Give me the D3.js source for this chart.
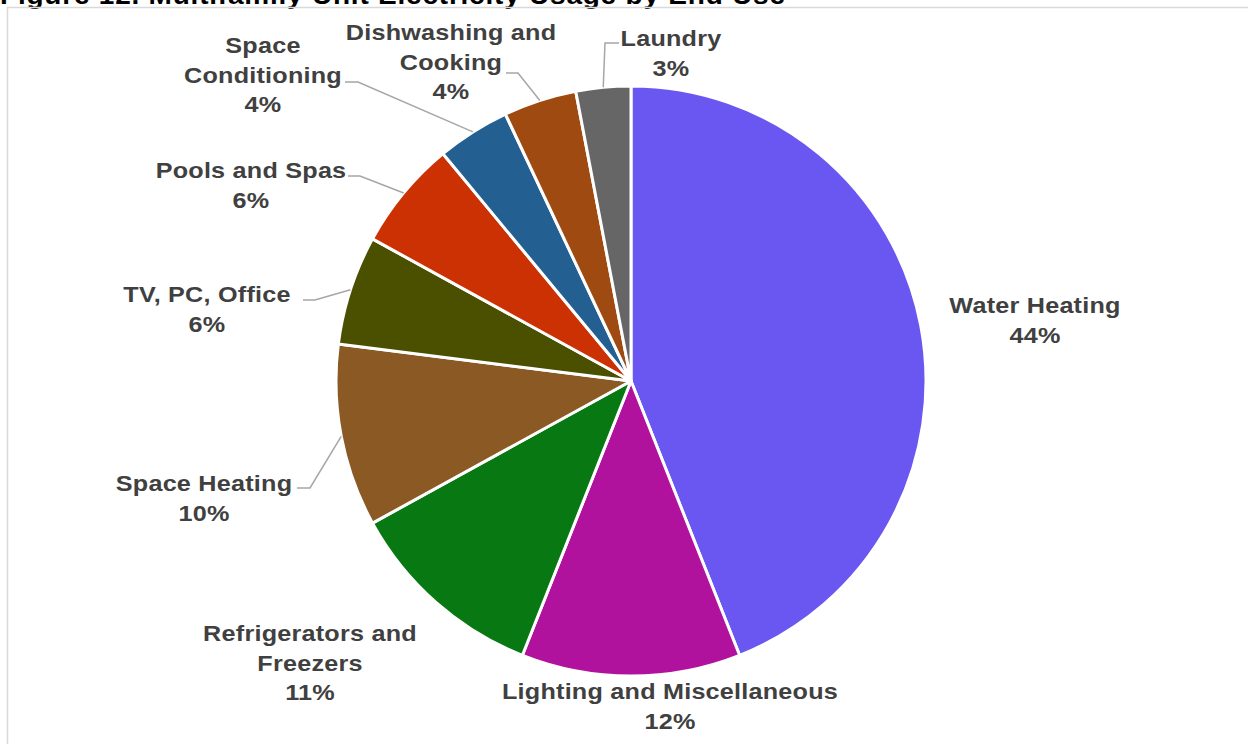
<!DOCTYPE html>
<html>
<head>
<meta charset="utf-8">
<script src="https://cdn.jsdelivr.net/npm/d3@7"></script>
<style>
  body { margin: 0; background: #fff; }
  svg { display: block; }
  text { font-family: "Liberation Sans", Arial, sans-serif; font-weight: bold; }
</style>
</head>
<body>
<svg width="1248" height="744"></svg>
<script>
var categories = ["Water Heating", "Lighting and Miscellaneous", "Refrigerators and Freezers",
    "Space Heating", "TV, PC, Office", "Pools and Spas", "Space Conditioning",
    "Dishwashing and Cooking", "Laundry"];
var shares = [44, 12, 11, 10, 6, 6, 4, 4, 3];
var colors = ["#6a56f0", "#b0129e", "#077812", "#8b5a24", "#4a5000", "#cc3104", "#245f91", "#9f4a10", "#666666"];

// label text split into lines, and where Excel placed each label box
var labelLines = [["Water Heating"], ["Lighting and Miscellaneous"], ["Refrigerators and", "Freezers"],
    ["Space Heating"], ["TV, PC, Office"], ["Pools and Spas"], ["Space", "Conditioning"],
    ["Dishwashing  and", "Cooking"], ["Laundry"]];
var labelPos = [[1034, 305], [669, 691], [309, 633], [203, 483], [206, 294],
    [250, 170], [262, 45], [450, 32], [670, 38]];
// leader elbow: [x of label side end, x of elbow, y]
var leaders = [null, null, null, [297, 310, 488], [303, 315, 300], [348, 360, 176],
    [345, 358, 82], [506, 518, 73], [619, 605, 43]];

var svg = d3.select("svg"),
    cx = 631, cy = 381, radius = 295, lineH = 29.5;

svg.append("text")
    .attr("transform", "translate(0,4) scale(1.12,1)")
    .attr("font-size", 25)
    .attr("letter-spacing", 0.7)
    .attr("fill", "#000")
    .text("Figure 12. Multifamily Unit Electricity Usage by End Use");

svg.append("path")
    .attr("d", "M7.5,744 V7.5 H1248")
    .attr("fill", "none")
    .attr("stroke", "#d9d9d9")
    .attr("stroke-width", 1.5);

var data = categories.map(function(c, i) {
    return { name: c, value: shares[i], color: colors[i], lines: labelLines[i], pos: labelPos[i], leader: leaders[i] };
});

var pie = d3.pie().sort(null).value(function(d) { return d.value; });
var arc = d3.arc().innerRadius(0).outerRadius(radius);
var arcs = pie(data);

var g = svg.append("g").attr("transform", "translate(" + cx + "," + cy + ")");

g.selectAll("path.slice")
    .data(arcs)
    .enter().append("path")
    .attr("class", "slice")
    .attr("d", arc)
    .attr("fill", function(d) { return d.data.color; })
    .attr("stroke", "#fff")
    .attr("stroke-width", 3)
    .attr("stroke-linejoin", "round");

// leader lines from label to the slice edge at its middle angle
arcs.forEach(function(a) {
    var L = a.data.leader;
    if (!L) return;
    var mid = (a.startAngle + a.endAngle) / 2,
        ex = cx + radius * Math.sin(mid),
        ey = cy - radius * Math.cos(mid);
    svg.append("polyline")
        .attr("points", [[L[0], L[2]], [L[1], L[2]], [ex, ey]].map(function(p) { return p.join(","); }).join(" "))
        .attr("fill", "none")
        .attr("stroke", "#a6a6a6")
        .attr("stroke-width", 1.5);
});

// Excel draws these wider than Arial, so stretch them a little
arcs.forEach(function(a) {
    var d = a.data,
        lines = d.lines.concat([d.value + "%"]);
    var t = svg.append("text")
        .attr("transform", "translate(" + (d.pos[0] + 1) + "," + d.pos[1] + ") scale(1.12,1)")
        .attr("text-anchor", "middle")
        .attr("font-size", 22.5)
        .attr("letter-spacing", 0.2)
        .attr("fill", "#404040");
    lines.forEach(function(s, i) {
        t.append("tspan")
            .attr("x", 0)
            .attr("y", i * lineH)
            .attr("dy", "0.36em")
            .text(s);
    });
});
</script>
</body>
</html>
